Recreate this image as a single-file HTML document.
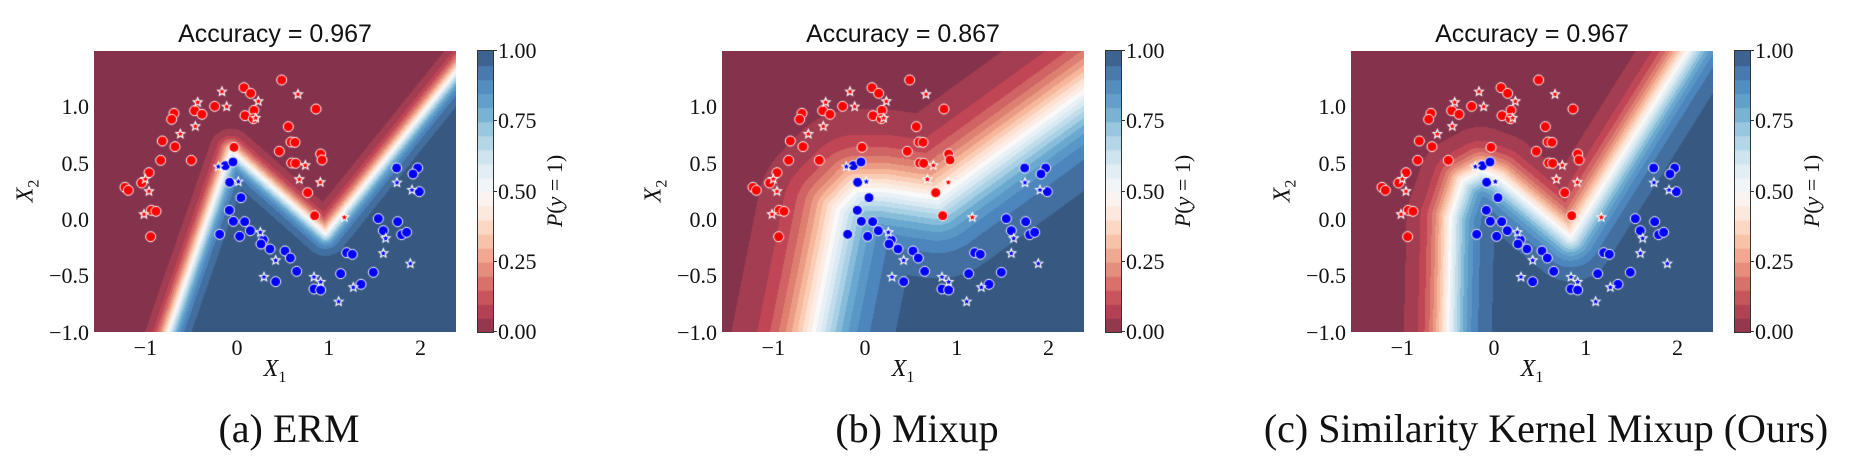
<!DOCTYPE html>
<html><head><meta charset="utf-8">
<style>
html,body{margin:0;padding:0;background:#fff;}
body{width:1854px;height:471px;position:relative;overflow:hidden;font-family:"Liberation Serif",serif;color:#111;}
.ab{position:absolute;white-space:nowrap;}
.tk{font-size:22px;}
.ttl{font-family:"Liberation Sans",sans-serif;font-size:25px;}
.cap{font-size:40px;}
canvas{position:absolute;}
</style></head><body>
<div id="root"></div>
<script>
const W=362,H=281,PY=51;
const offs=[0,628,1257];
const titles=["Accuracy = 0.967","Accuracy = 0.867","Accuracy = 0.967"];
const caps=["(a) ERM","(b) Mixup","(c) Similarity Kernel Mixup (Ours)"];
function dx(x){return (x+1.56)*91.7;} function dy(y){return (1.5-y)*112.6;}
const polys=[
 {p:[[-0.76,-1],[-0.07,0.62],[0.96,-0.12],[2.48,1.42]],s:6},
 {p:[[-0.57,-1],[-0.3,0.1],[-0.1,0.27],[0.2,0.27],[0.78,0.20],[2.39,1.15]],s:22},
 {p:[[-0.51,-1],[-0.48,0.03],[-0.35,0.35],[-0.15,0.44],[0.05,0.38],[0.83,-0.15],[2.1,1.5]],s:12}
];
const stops=[[103,0,31],[178,24,43],[214,96,77],[244,165,130],[253,219,199],[247,247,247],[209,229,240],[146,197,222],[67,147,195],[33,102,172],[5,48,97]];
function cmap(t){t=Math.max(0,Math.min(1,t));let f=t*10,i=Math.min(9,Math.floor(f)),u=f-i;
 return stops[i].map((c,k)=>Math.round((c+(stops[i+1][k]-c)*u)*0.8+51));}
const red=[[845,240],[732,263],[752,280],[948,327],[644,319],[584,332],[606,343],[522,340],[515,358],[762,331],[735,347],[760,356],[865,380],[487,423],[525,440],[702,442],[873,426],[885,427],[838,454],[482,481],[574,481],[875,489],[887,490],[962,462],[966,480],[447,518],[425,549],[375,562],[385,571],[923,578],[454,631],[468,634],[944,647],[452,710]];
const blue=[[676,497],[699,486],[1190,504],[1253,504],[1239,522],[689,547],[1258,575],[723,593],[688,631],[700,664],[734,665],[1135,656],[1193,665],[1150,692],[751,692],[659,703],[719,709],[1205,704],[1220,697],[790,720],[783,732],[810,747],[855,753],[871,774],[1040,758],[1057,763],[1120,817],[890,814],[1022,821],[827,845],[1083,853],[942,867],[962,870]];
const rs=[[666,275],[593,307],[680,320],[775,304],[894,283],[767,354],[586,379],[541,402],[916,496],[898,538],[961,547],[436,537],[447,574],[432,643],[1033,652]];
const bs=[[655,500],[715,545],[1191,548],[1236,570],[781,697],[1157,715],[1150,760],[827,781],[1231,791],[792,831],[942,831],[962,846],[1060,862],[1016,905]];
const root=document.getElementById('root');
function add(html){root.insertAdjacentHTML('beforeend',html);}
function star(ctx,x,y,r,c){ctx.beginPath();for(let i=0;i<10;i++){let a=-Math.PI/2+i*Math.PI/5,rr=i%2?r*0.45:r;ctx.lineTo(x+rr*Math.cos(a),y+rr*Math.sin(a));}ctx.closePath();ctx.fillStyle=c;ctx.fill();ctx.strokeStyle='#fff';ctx.lineWidth=1.2;ctx.stroke();}
offs.forEach((o,pi)=>{
 const L=94+o;
 const cv=document.createElement('canvas');cv.width=W;cv.height=H;cv.style.left=L+'px';cv.style.top=PY+'px';root.appendChild(cv);
 const ctx=cv.getContext('2d');const img=ctx.createImageData(W,H);
 const P=polys[pi].p.map(q=>[dx(q[0]),dy(q[1])]);const s=polys[pi].s;
 const n=P.length;
 function fy(x){let i=0;if(x<=P[0][0])i=0;else if(x>=P[n-1][0])i=n-2;else{for(i=0;i<n-1;i++)if(x<=P[i+1][0])break;}
  const a=P[i],b=P[i+1];return a[1]+(b[1]-a[1])*(x-a[0])/(b[0]-a[0]);}
 const ext=[[P[0][0]-(P[1][0]-P[0][0])*5,P[0][1]-(P[1][1]-P[0][1])*5],...P,[P[n-1][0]+(P[n-1][0]-P[n-2][0])*5,P[n-1][1]+(P[n-1][1]-P[n-2][1])*5]];
 for(let y=0;y<H;y++)for(let x=0;x<W;x++){
  let d=1e9;for(let i=0;i<ext.length-1;i++){const a=ext[i],b=ext[i+1];const vx=b[0]-a[0],vy=b[1]-a[1];let t=((x-a[0])*vx+(y-a[1])*vy)/(vx*vx+vy*vy);t=Math.max(0,Math.min(1,t));const ex=a[0]+t*vx-x,ey=a[1]+t*vy-y;d=Math.min(d,Math.hypot(ex,ey));}
  const sg=(y>fy(x))?1:-1;let p=1/(1+Math.exp(-sg*d/s));p=Math.round(p*20)/20;
  const c=cmap(p);const k=(y*W+x)*4;img.data[k]=c[0];img.data[k+1]=c[1];img.data[k+2]=c[2];img.data[k+3]=255;}
 ctx.putImageData(img,0,0);
 const tr=q=>[q[0]/3-94,q[1]/3-51];
 red.forEach(q=>{const[a,b]=tr(q);ctx.beginPath();ctx.arc(a,b,5,0,7);ctx.fillStyle='#ff0000';ctx.fill();ctx.strokeStyle='#fff';ctx.lineWidth=1;ctx.stroke();});
 blue.forEach(q=>{const[a,b]=tr(q);ctx.beginPath();ctx.arc(a,b,5,0,7);ctx.fillStyle='#0000ff';ctx.fill();ctx.strokeStyle='#fff';ctx.lineWidth=1;ctx.stroke();});
 rs.forEach(q=>{const[a,b]=tr(q);star(ctx,a,b,4.5,'#ff0000');});
 bs.forEach(q=>{const[a,b]=tr(q);star(ctx,a,b,4.5,'#0000ff');});
 const cb=document.createElement('canvas');cb.width=15;cb.height=281;cb.style.left=(478+o)+'px';cb.style.top='51px';cb.style.outline='1px solid #333';root.appendChild(cb);
 const c2=cb.getContext('2d');for(let i=0;i<20;i++){const c=cmap((i+0.5)/20);c2.fillStyle=`rgb(${c})`;c2.fillRect(0,281-(i+1)*281/20,15,281/20+1);}
 ['1.00','0.75','0.50','0.25','0.00'].forEach((t,i)=>{const y=51+i*70.25;add(`<div class="ab" style="left:${493+o}px;top:${y-1}px;width:4px;height:1px;background:#333"></div><div class="ab tk" style="left:${498+o}px;top:${y-13}px">${t}</div>`);});
 add(`<div class="ab tk" style="left:${555+o}px;top:191px;transform:translate(-50%,-50%) rotate(-90deg)"><i>P</i>(<i>y</i> = 1)</div>`);
 ['1.0','0.5','0.0','−0.5','−1.0'].forEach((t,i)=>{const y=51+dy(1-i*0.5);add(`<div class="ab tk" style="left:${o}px;width:${89}px;text-align:right;top:${y-13}px">${t}</div>`);});
 ['−1','0','1','2'].forEach((t,i)=>{const x=L+dx(i-1);add(`<div class="ab tk" style="left:${x-30}px;width:60px;text-align:center;top:335px">${t}</div>`);});
 add(`<div class="ab tk" style="left:${L+181-30}px;width:60px;text-align:center;top:356px;font-size:24px"><i>X</i><sub style="font-size:16px">1</sub></div>`);
 add(`<div class="ab tk" style="left:${28+o}px;top:191px;font-size:24px;transform:translate(-50%,-50%) rotate(-90deg)"><i>X</i><sub style="font-size:16px">2</sub></div>`);
 add(`<div class="ab ttl" style="left:${L+181-150}px;width:300px;text-align:center;top:20px">${titles[pi]}</div>`);
 add(`<div class="ab cap" style="left:${L+195-300}px;width:600px;text-align:center;top:405px">${caps[pi]}</div>`);
});
</script>
</body></html>
